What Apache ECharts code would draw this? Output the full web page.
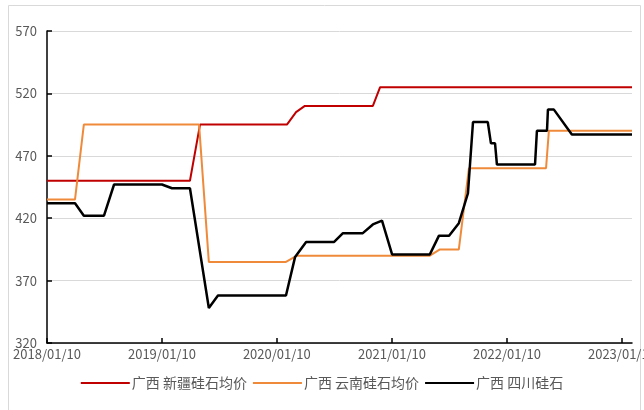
<!DOCTYPE html>
<html>
<head>
<meta charset="utf-8">
<script src="https://cdn.jsdelivr.net/npm/echarts@6/dist/echarts.min.js"></script>
<style>
  html, body { margin: 0; padding: 0; background: #fff; }
  #main { width: 644px; height: 410px; }
</style>
</head>
<body>
<div id="main"></div>
<script>
// 广西 新疆硅石均价
const xinjiangDates = ['2018-01-10', '2019-04-09', '2019-05-11', '2020-02-11', '2020-03-11', '2020-04-08', '2020-11-10', '2020-12-03', '2023-02-11']
const xinjiangValues = [450, 450, 495, 495, 505, 510, 510, 525, 525]

// 广西 云南硅石均价
const yunnanDates = ['2018-01-10', '2018-04-09', '2018-05-07', '2019-05-08', '2019-06-08', '2020-02-08', '2020-03-14', '2021-05-10', '2021-06-11', '2021-08-10', '2021-09-11', '2022-05-14', '2022-05-23', '2023-02-11']
const yunnanValues = [435, 435, 495, 495, 385, 385, 390, 390, 395, 395, 460, 460, 490, 490]

// 广西 四川硅石
const sichuanDates = ['2018-01-10', '2018-04-09', '2018-05-07', '2018-07-10', '2018-08-11', '2019-01-10', '2019-02-11', '2019-04-09', '2019-06-08', '2019-07-07', '2020-02-08', '2020-03-08', '2020-04-12', '2020-07-10', '2020-08-07', '2020-10-09', '2020-11-10', '2020-12-09', '2021-01-10', '2021-05-10', '2021-06-08', '2021-07-10', '2021-08-10', '2021-09-08', '2021-09-24', '2021-11-10', '2021-11-20', '2021-12-03', '2021-12-09', '2022-04-09', '2022-04-15', '2022-05-17', '2022-05-20', '2022-06-08', '2022-08-04', '2023-02-11']
const sichuanValues = [432, 432, 422, 422, 447, 447, 444, 444, 348, 358, 358, 389, 401, 401, 408, 408, 415, 418, 391, 391, 406, 406, 416, 440, 497, 497, 480, 480, 463, 463, 490, 490, 507, 507, 487, 487]

const tickLabels = ['2018/01/10', '2019/01/10', '2020/01/10', '2021/01/10', '2022/01/10', '2023/01/10']
const seriesNames = ['广西 新疆硅石均价', '广西 云南硅石均价', '广西 四川硅石']

const toTime = s => Date.parse(s.replace(/\//g, '-') + 'T00:00:00Z')
const pairs = (dates, values) => dates.map((d, i) => [toTime(d), values[i]])
const tickValues = tickLabels.map(toTime)

const chart = echarts.init(document.getElementById('main'))
chart.setOption({
  animation: false,
  textStyle: { fontFamily: '"Noto Sans CJK SC", "Noto Sans", sans-serif' },
  graphic: [{
    type: 'rect',
    shape: { x: 8.5, y: 5.5, width: 632, height: 410 },
    style: { fill: 'none', stroke: '#d9d9d9', lineWidth: 1 },
    silent: true
  }],
  grid: { left: 47, right: 12, top: 31, bottom: 67, containLabel: false, outerBoundsMode: 'none' },
  legend: {
    bottom: 15,
    left: 'center',
    itemWidth: 49,
    itemHeight: 10,
    itemGap: 6,
    icon: 'path://M0,4 L49,4 L49,6 L0,6 Z',
    textStyle: { color: '#595959', fontSize: 14, padding: [0, 0, 0, -3] },
    data: seriesNames
  },
  xAxis: {
    type: 'value',
    min: toTime('2018-01-10'),
    max: toTime('2023-02-11'),
    splitLine: { show: false },
    axisLine: { show: true, lineStyle: { color: '#000', width: 1.5 } },
    axisTick: { show: true, inside: true, length: 5, customValues: tickValues, lineStyle: { color: '#000', width: 1.5 } },
    axisLabel: {
      customValues: tickValues,
      color: '#595959',
      fontSize: 13,
      margin: 5,
      hideOverlap: false,
      formatter: v => {
        const i = tickValues.indexOf(v)
        return i >= 0 ? tickLabels[i] : ''
      }
    }
  },
  yAxis: {
    type: 'value',
    min: 320,
    max: 570,
    interval: 50,
    axisLine: { show: true, lineStyle: { color: '#000', width: 1.5 } },
    axisTick: { show: true, inside: true, length: 5, lineStyle: { color: '#000', width: 1.5 } },
    axisLabel: { color: '#595959', fontSize: 13, margin: 10 },
    splitLine: { lineStyle: { color: '#d9d9d9', width: 1 } }
  },
  series: [
    {
      name: seriesNames[0],
      type: 'line',
      data: pairs(xinjiangDates, xinjiangValues),
      showSymbol: false,
      color: '#c00000',
      lineStyle: { width: 2, color: '#c00000' }
    },
    {
      name: seriesNames[1],
      type: 'line',
      data: pairs(yunnanDates, yunnanValues),
      showSymbol: false,
      color: '#ef8a3a',
      lineStyle: { width: 2, color: '#ef8a3a' }
    },
    {
      name: seriesNames[2],
      type: 'line',
      data: pairs(sichuanDates, sichuanValues),
      showSymbol: false,
      color: '#000000',
      lineStyle: { width: 2.5, color: '#000000' }
    }
  ]
})
</script>
</body>
</html>
